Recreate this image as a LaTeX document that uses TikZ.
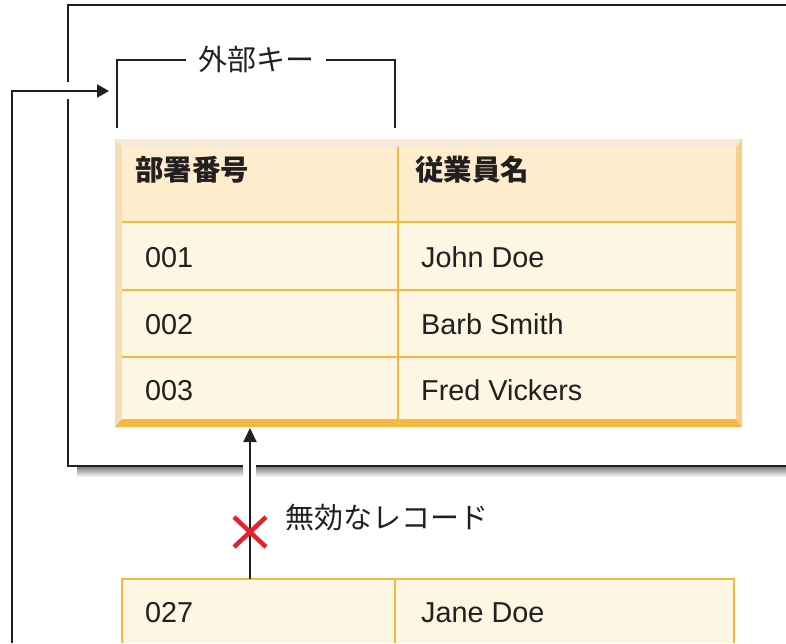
\documentclass[tikz,border=0pt]{standalone}
\usepackage{fontspec}
\setmainfont{Liberation Sans}
\newfontfamily\jp{Noto Sans CJK JP}
\usetikzlibrary{arrows.meta,calc}
\definecolor{ink}{HTML}{231F20}
\definecolor{orl}{HTML}{F5B73F}
\definecolor{hdr}{HTML}{FDEDCD}
\definecolor{rowc}{HTML}{FDF6E3}
\definecolor{bevT}{HTML}{F5EADA}
\definecolor{bevL}{HTML}{F4DEB6}
\definecolor{bevR}{HTML}{F6CF8A}
\definecolor{bevB}{HTML}{F5B840}
\definecolor{shade}{HTML}{E6E7E8}
\definecolor{xred}{HTML}{E2232E}
\tikzset{
  txt/.style={inner sep=0pt, anchor=base west, text=ink, font=\fontsize{28.8}{33}\selectfont},
  jtxt/.style={txt, font=\fontsize{29}{33}\selectfont\jp},
  htxt/.style={txt, font=\fontsize{28.5}{33}\selectfont\jp\bfseries},
  blk/.style={draw=ink, line width=2pt},
  arr/.style={blk, -{Triangle[length=14pt,width=13pt]}},
  grid/.style={draw=orl, line width=1.6pt},
}
\begin{document}
\begin{tikzpicture}[x=1pt,y=-1pt]
\useasboundingbox (0,0) rectangle (786,643);
% outer frame with shadow
\fill[shade] (77,467) rectangle (243,477);
\fill[shade] (256,467) rectangle (786,477);
\draw[blk] (786,5) -- (68,5) -- (68,82);
\draw[blk] (68,99) -- (68,466) -- (243,466);
\draw[blk] (256,466) -- (786,466);
% main table
\node[inner sep=0pt, minimum width=627pt, minimum height=288pt, anchor=north west] (tbl) at (115,139) {};
\fill[bevT] (115,139) -- (742,139) -- (736,147) -- (122,147) -- cycle;
\fill[bevL] (115,139) -- (122,147) -- (122,419) -- (115,427) -- cycle;
\fill[bevR] (742,139) -- (742,427) -- (736,419) -- (736,147) -- cycle;
\fill[bevB] (115,427) -- (742,427) -- (736,419) -- (122,419) -- cycle;
\fill[hdr] (122,147) rectangle (736,222);
\fill[rowc] (122,222) rectangle (736,419);
\draw[grid] (122,222) -- (736,222);
\draw[grid] (122,290) -- (736,290);
\draw[grid] (122,357) -- (736,357);
\draw[grid] (398,147) -- (398,419);
\node[htxt] (h1) at (135,180) {部署番号};
\node[htxt] (h2) at (415,180) {従業員名};
\node[txt] (r1a) at (145,267) {001};
\node[txt] (r1b) at (421,267) {John Doe};
\node[txt] (r2a) at (145,334) {002};
\node[txt] (r2b) at (421,334) {Barb Smith};
\node[txt] (r3a) at (145,400) {003};
\node[txt] (r3b) at (421,400) {Fred Vickers};
% foreign key bracket
\node[jtxt, anchor=base] (fk) at (256,70) {外部キー};
\draw[blk] (117,128) -- (117,59.5) -- (186,59.5);
\draw[blk] (326,59.5) -- (395,59.5) -- (395,128);
% bottom table
\node[inner sep=0pt, minimum width=612pt, minimum height=64pt, anchor=north west] (btbl) at (122,579) {};
\fill[rowc] (122,579) rectangle (734,643);
\draw[draw=orl, line width=2pt] (btbl.south west) -- (btbl.north west) -- (btbl.north east) -- (btbl.south east);
\draw[grid] (395,579) -- (395,643);
\node[txt] (b1) at (145,622) {027};
\node[txt] (b2) at (421,622) {Jane Doe};
% invalid record arrow
\coordinate (vs) at (250,579);
\coordinate (vt) at (250,428);
\draw[arr] (vs) -- (vt);
\coordinate (xc) at (250,532);
\draw[xred, line width=4.5pt] ($(xc)+(-16,-15)$) -- ($(xc)+(16,15)$);
\draw[xred, line width=4.5pt] ($(xc)+(16,-15)$) -- ($(xc)+(-16,15)$);
\node[jtxt] (inv) at (285,528) {無効なレコード};
% left feedback arrow
\coordinate (ls) at (12,643);
\coordinate (lt) at (109,91);
\draw[arr, -{Triangle[length=12pt,width=13pt]}] (ls) |- (lt);
\end{tikzpicture}
\end{document}
